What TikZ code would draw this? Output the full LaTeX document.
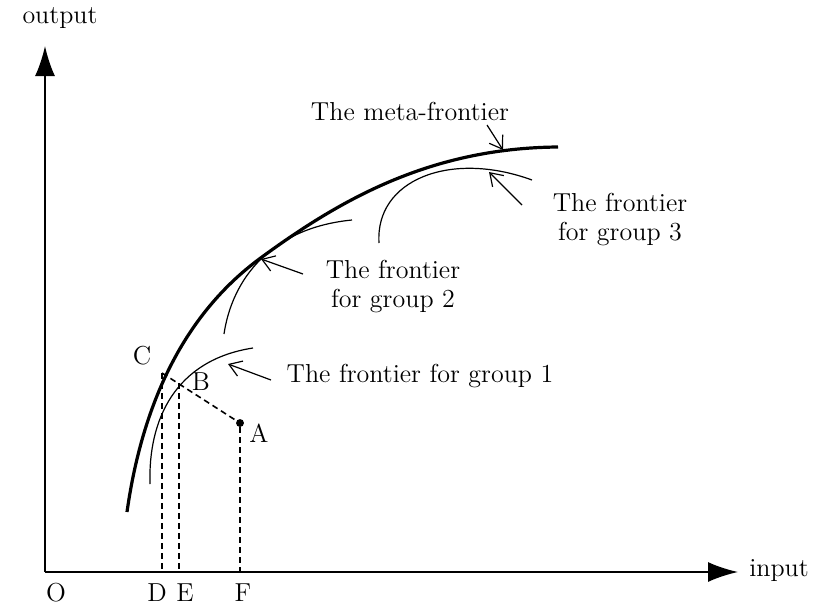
\documentclass[tikz,border=0pt]{standalone}
\usepackage{tikz}
\usetikzlibrary{arrows.meta}
\tikzset{
  axis/.style={-{Latex[length=15pt,width=10pt]}, line width=0.9pt},
  meta/.style={line width=1.6pt},
  frontier/.style={line width=0.6pt},
  guide/.style={densely dashed, line width=0.8pt},
  pointer/.style={-{Straight Barb[length=6pt,width=8pt]}, line width=0.6pt},
  lbl/.style={font=\fontsize{13}{14.5}\selectfont, inner sep=1pt, align=center},
  dot/.style={circle, fill, inner sep=1.4pt},
}
\begin{document}
\begin{tikzpicture}[x=0.5pt, y=-0.5pt]
\useasboundingbox (0,0) rectangle (814,606);
% axes
\coordinate (O) at (45,572);
\coordinate (ytip) at (45,46);
\coordinate (xtip) at (738,572);
\draw[axis] (O) -- (ytip);
\draw[axis] (O) -- (xtip);
\node[lbl] (ylab) at (60,18) {output};
\node[lbl] (xlab) at (779,571) {input};
\node[lbl] (olab) at (56,593) {O};
% frontiers
\draw[meta] (127,512) .. controls (140,420) and (175,320) .. (262,257)
  .. controls (340,200) and (430,148) .. (558,147);
\draw[frontier] (150,484) .. controls (148,420) and (175,360) .. (253,348);
\draw[frontier] (224,334) .. controls (232,280) and (270,228) .. (352,220);
\draw[frontier] (379,243) .. controls (375,180) and (450,150) .. (532,180);
% points
\coordinate (C) at (162,373);
\coordinate (B) at (179,383);
\node[dot] (A) at (240,423) {};
\coordinate (D) at (162,572);
\coordinate (E) at (179,572);
\coordinate (F) at (240,572);
\draw[guide] (C) -- (A);
\draw[guide] (C) -- (D);
\draw[guide] (B) -- (E);
\draw[guide] (A) -- (F);
\node[lbl] (clab) at (142,356) {C};
\node[lbl] (blab) at (201,382) {B};
\node[lbl] (alab) at (259,433) {A};
\node[lbl] (dlab) at (157,593) {D};
\node[lbl] (elab) at (185,593) {E};
\node[lbl] (flab) at (243,593) {F};
% labels
\node[lbl] (metalab) at (410,111) {The meta-frontier};
\node[lbl] (g3lab) at (620,220) {The frontier\\ for group 3};
\node[lbl] (g2lab) at (393,287) {The frontier\\ for group 2};
\node[lbl] (g1lab) at (420,376) {The frontier for group 1};
\coordinate (onmeta) at (503,150);
\coordinate (ong3) at (489,172);
\coordinate (ong2) at (261,259);
\coordinate (ong1) at (228,364);
\draw[pointer] (487,125) -- (onmeta);
\draw[pointer] (522,205) -- (ong3);
\draw[pointer] (303,274) -- (ong2);
\draw[pointer] (271,380) -- (ong1);
\end{tikzpicture}
\end{document}
